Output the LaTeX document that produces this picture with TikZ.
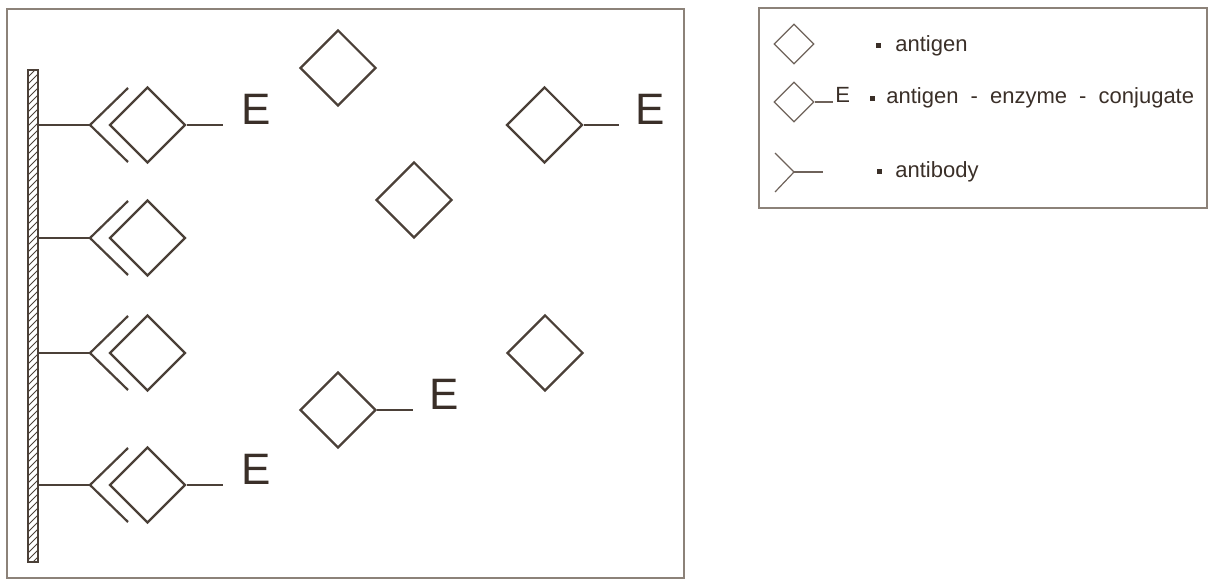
\documentclass[tikz,border=0pt]{standalone}
\usepackage{fontspec}
\setmainfont{Liberation Sans}
\usetikzlibrary{shapes.geometric}
\definecolor{ink}{HTML}{4B4038}
\definecolor{txt}{HTML}{3A2F28}
\definecolor{frm}{HTML}{8C8279}
\definecolor{lgd}{HTML}{6E625A}
\tikzset{
  bigdiam/.style={diamond, draw=ink, line width=1.1pt, minimum size=38pt, inner sep=0pt},
  smalldiam/.style={diamond, draw=lgd, line width=0.6pt, minimum size=20pt, inner sep=0pt},
  conn/.style={draw=ink, line width=1.1pt},
  lconn/.style={draw=lgd, line width=0.6pt},
  bigE/.style={text=txt, font=\fontsize{22}{26}\selectfont, inner sep=0pt, anchor=base},
  lgtext/.style={text=txt, font=\fontsize{11}{13}\selectfont, inner sep=0pt, anchor=base west},
  bullet/.style={fill=txt, inner sep=0pt, minimum size=2.5pt},
  frame/.style={draw=frm, line width=0.8pt}
}
\begin{document}
\begin{tikzpicture}[x=0.5pt,y=-0.5pt]
\useasboundingbox (0,0) rectangle (1214,581);
% main frame
\draw[frame] (7,9) rectangle (684,578);
% hatched support bar
\begin{scope}
  \clip (28,70) rectangle (38,562);
  \foreach \yy in {70,77,...,580} {
    \draw[ink, line width=0.4pt] (28,\yy) -- (38,\yy-10);
  }
\end{scope}
\draw[ink, line width=0.7pt] (28,70) rectangle (38,562);
% bound antibodies with antigens
\foreach \n/\yy in {1/125, 2/238, 3/353, 4/485} {
  \coordinate (bar\n) at (38,\yy);
  \coordinate (fork\n) at (90,\yy);
  \coordinate (armu\n) at (128,\yy-37);
  \coordinate (armd\n) at (128,\yy+37);
  \draw[conn] (bar\n) -- (fork\n);
  \draw[conn] (armu\n) -- (fork\n) -- (armd\n);
  \node[bigdiam] (bd\n) at (147.5,\yy) {};
}
% enzyme labels on bound conjugates
\coordinate (l1) at (223,125);
\draw[conn] (bd1.east) -- (l1);
\node[bigE] (E1) at (256,125) {E};
\coordinate (l4) at (223,485);
\draw[conn] (bd4.east) -- (l4);
\node[bigE] (E4) at (256,485) {E};
% free antigens
\node[bigdiam] (fa) at (338,68) {};
\node[bigdiam] (fb) at (414,200) {};
\node[bigdiam] (fc) at (544.5,125) {};
\node[bigdiam] (fd) at (545,353) {};
\node[bigdiam] (fe) at (338,410) {};
\coordinate (lc) at (619,125);
\draw[conn] (fc.east) -- (lc);
\node[bigE] (Ec) at (650,125) {E};
\coordinate (le) at (413,410);
\draw[conn] (fe.east) -- (le);
\node[bigE] (Ee) at (444,410) {E};
% legend
\draw[frame] (759,8) rectangle (1207,208);
\node[smalldiam] (ld1) at (794,44) {};
\node[bullet] (b1) at (878,46) {};
\node[lgtext] (t1) at (895,52) {antigen};
\node[smalldiam] (ld2) at (794,102) {};
\coordinate (ll2) at (833,102);
\draw[lconn] (ld2.east) -- (ll2);
\node[lgtext] (le2) at (835,103) {E};
\node[bullet] (b2) at (872,99) {};
\node[lgtext] (t2) at (886,104) {antigen\hspace{3pt} - \hspace{3pt}enzyme\hspace{3pt} - \hspace{3pt}conjugate};
\coordinate (lf) at (794,172);
\coordinate (ls) at (823,172);
\coordinate (lu) at (775,153);
\coordinate (lw) at (775,192);
\draw[lconn] (lf) -- (ls);
\draw[lconn] (lu) -- (lf) -- (lw);
\node[bullet] (b3) at (879,172) {};
\node[lgtext] (t3) at (895,178) {antibody};
\end{tikzpicture}
\end{document}
